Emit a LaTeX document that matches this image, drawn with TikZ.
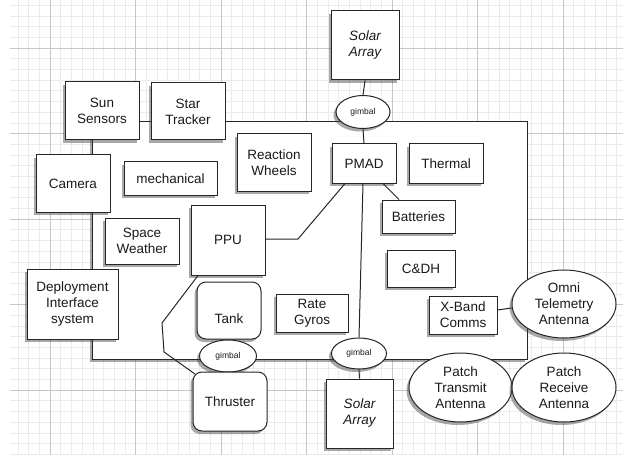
\documentclass[tikz,border=0pt]{standalone}
\usepackage{fontspec}
\setmainfont{Liberation Sans}
\usetikzlibrary{shapes.geometric,shadows}
\begin{document}
\begin{tikzpicture}[x=1pt,y=-1pt,
  base/.style={draw=black!85, line width=1pt, fill=white, inner sep=0pt, align=center,
    font=\fontsize{13.5}{16}\selectfont, text=black!90,
    drop shadow={shadow xshift=-2.5pt, shadow yshift=-3pt, opacity=0.45, fill=black!75}},
  box/.style={base, rectangle},
  rbox/.style={base, rectangle, rounded corners=9pt},
  oval/.style={base, ellipse},
  gimb/.style={base, ellipse, font=\fontsize{8.5}{10}\selectfont},
  sz/.style 2 args={minimum width=#1, minimum height=#2},
  wire/.style={draw=black!85, line width=1pt},
  gridminor/.style={draw=black!8, line width=0.5pt},
  gridmajor/.style={draw=black!22, line width=0.6pt}
]
\useasboundingbox (0,0) rectangle (623,457);
\fill[white] (0,0) rectangle (623,457);
% grid
\begin{scope}
\clip (10,0) rectangle (623,455);
\foreach \i in {-4,...,54} \draw[gridminor] ({50+\i*10.6875},0) -- ++(0,455);
\foreach \j in {-5,...,38} \draw[gridminor] (10,{48+\j*10.6875}) -- ++(613,0);
\foreach \i in {0,...,6} \draw[gridmajor] ({50+\i*85.5},0) -- ++(0,455);
\foreach \j in {0,...,4} \draw[gridmajor] (10,{48+\j*85.5}) -- ++(613,0);
\end{scope}
% spacecraft bus
\node[box, sz={435}{237}] (bus) at (309.5,240.5) {};
% nodes
\node[box, sz={68}{69}, font=\fontsize{13.5}{16}\selectfont\itshape] (solarTop) at (365,45.5) {Solar\\Array};
\node[gimb, sz={54}{33}] (gimbalTop) at (363,112) {gimbal};
\node[box, sz={64}{39}] (pmad) at (364,163.5) {PMAD};
\node[box, sz={74}{39}] (thermal) at (446,163.5) {Thermal};
\node[box, sz={73}{33}] (batt) at (418.5,216.5) {Batteries};
\node[box, sz={68}{37}] (cdh) at (421,268.5) {C\&DH};
\node[box, sz={68}{38}] (xband) at (463,315) {X-Band\\Comms};
\node[oval, sz={104}{68}] (omni) at (564,304) {Omni\\Telemetry\\Antenna};
\node[oval, sz={103}{69}] (patchT) at (460.5,387.5) {Patch\\Transmit\\Antenna};
\node[oval, sz={104}{69}] (patchR) at (564,387.5) {Patch\\Receive\\Antenna};
\node[gimb, sz={55}{31}] (gimbalBot) at (359,353.5) {gimbal};
\node[box, sz={67}{69}, font=\fontsize{13.5}{16}\selectfont\itshape] (solarBot) at (359.5,413.5) {Solar\\Array};
\node[box, sz={72}{38}] (gyros) at (312,313) {Rate\\Gyros};
\node[rbox, sz={64}{57}] (tank) at (229,310.5) {\raisebox{-8pt}[\height][0pt]{Tank}};
\node[gimb, sz={57}{32}] (gimbalL) at (228,356) {gimbal};
\node[rbox, sz={74}{59}] (thruster) at (230,401.5) {Thruster};
\node[box, sz={74}{70}] (ppu) at (228,240) {PPU};
\node[box, sz={74}{46}] (weather) at (142,241) {Space\\Weather};
\node[box, sz={93}{33}] (mech) at (170.5,178.5) {mechanical};
\node[box, sz={74}{57}] (wheels) at (274,162.5) {Reaction\\Wheels};
\node[box, sz={74}{58}] (sun) at (102,111) {Sun\\Sensors};
\node[box, sz={74}{57}] (star) at (188,111.5) {Star\\Tracker};
\node[box, sz={74}{57}] (camera) at (73,183.5) {Camera};
\node[box, sz={91}{70}] (deploy) at (72.5,304) {Deployment\\Interface\\system};
% connectors
\coordinate (k1) at (298,239);
\coordinate (k2) at (162,323);
\coordinate (k3) at (164,352);
\draw[wire] (solarTop.south) -- (gimbalTop.north);
\draw[wire] (gimbalTop.south) -- (pmad.north);
\draw[wire] ([xshift=-1pt]pmad.south) -- (gimbalBot.north);
\draw[wire] (gimbalBot.south) -- (solarBot.north);
\draw[wire] ([xshift=-19pt]pmad.south) -- (k1) -- (k1 -| ppu.east);
\draw[wire] ([xshift=19pt]pmad.south) -- ([xshift=-19.5pt]batt.north);
\draw[wire] ([xshift=-30pt]ppu.south) -- (k2) -- (k3) -- ([shift={(2.5,2.5)}]thruster.north west);
\draw[wire] ([yshift=5pt]xband.east) -- ([yshift=-4pt]omni.west);
\end{tikzpicture}
\end{document}
